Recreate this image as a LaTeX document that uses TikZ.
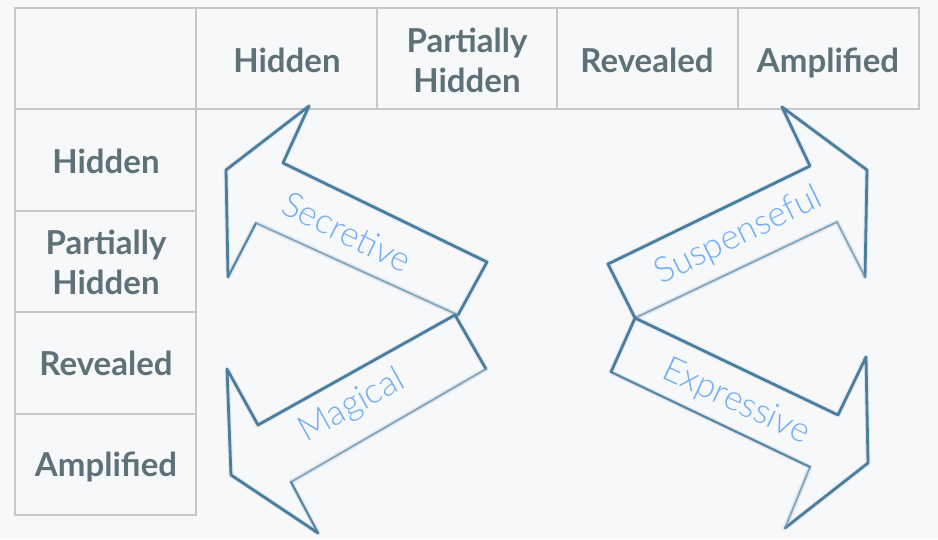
\documentclass[tikz,border=0pt]{standalone}
\usepackage{fontspec}
\setmainfont{Lato}
\newfontfamily\lightfont{Lato}[UprightFont={* Light}]
\definecolor{bgc}{HTML}{F7F8FA}
\definecolor{gridc}{HTML}{C6C7C9}
\definecolor{headc}{HTML}{5F7178}
\definecolor{arrc}{HTML}{4A7D9E}
\definecolor{arrlight}{HTML}{7299B4}
\definecolor{lblc}{HTML}{72AEF6}
\tikzset{
  gridline/.style={draw=gridc, line width=1.3pt},
  head/.style={text=headc, font=\bfseries\fontsize{33}{40}\selectfont, align=center, inner sep=0pt},
  lbl/.style={text=lblc, font=\lightfont\fontsize{35}{40}\selectfont, inner sep=0pt},
  halo/.style={draw=arrc, line width=5pt, opacity=0.12, line join=round},
  dk/.style={draw=arrc, line width=2.8pt, line cap=round, line join=round},
  lt/.style={draw=arrlight, line width=1.8pt, line cap=round, opacity=0.85},
  md/.style={draw=arrc, line width=2.2pt, line cap=round, opacity=0.9},
}
\begin{document}
\begin{tikzpicture}[x=1pt,y=-1pt]
\fill[bgc] (0,0) rectangle (938,539);
\useasboundingbox (0,0) rectangle (938,539);
% table grid
\draw[gridline] (15,8) rectangle (919,109);
\foreach \x in {196,377,557,738} \draw[gridline] (\x,8) -- (\x,109);
\draw[gridline] (15,109) rectangle (196,515);
\foreach \y in {211,312,414} \draw[gridline] (15,\y) -- (196,\y);
% headers
\node[head, anchor=base] (c1) at (287,72) {Hidden};
\node[head] (c2) at (467,60) {Partially\\Hidden};
\node[head, anchor=base] (c3) at (647,72) {Revealed};
\node[head, anchor=base] (c4) at (828,72) {Amplified};
\node[head, anchor=base] (r1) at (106,173) {Hidden};
\node[head] (r2) at (106,262) {Partially\\Hidden};
\node[head, anchor=base] (r3) at (106,375) {Revealed};
\node[head, anchor=base] (r4) at (106,476) {Amplified};
% Secretive arrow
\coordinate (sa) at (283,163); \coordinate (sb) at (309,106); \coordinate (sc) at (226,170);
\coordinate (sd) at (228,277); \coordinate (se) at (256,223); \coordinate (sf) at (458,315);
\coordinate (sg) at (487,262);
\draw[halo] (sa)--(sb)--(sc)--(sd)--(se)--(sf)--(sg)--cycle;
\draw[dk] (sf)--(sg)--(sa)--(sb)--(sc)--(sd);
\draw[md] (sd)--(se);
\draw[lt] (se)--(sf);
% Magical arrow
\coordinate (ma) at (455,315); \coordinate (mb) at (486,369); \coordinate (mc) at (291,482);
\coordinate (md) at (318,533); \coordinate (me) at (231,475); \coordinate (mf) at (227,369);
\coordinate (mg) at (258,425);
\draw[halo] (ma)--(mb)--(mc)--(md)--(me)--(mf)--(mg)--cycle;
\draw[dk] (md)--(me)--(mf)--(mg)--(ma)--(mb);
\draw[lt] (mb)--(mc);
\draw[md] (mc)--(md);
% Suspenseful arrow
\coordinate (ua) at (608,264); \coordinate (ub) at (810,166); \coordinate (uc) at (782,107);
\coordinate (ud) at (867,170); \coordinate (ue) at (865,277); \coordinate (uf) at (837,222);
\coordinate (ug) at (635,318);
\draw[halo] (ua)--(ub)--(uc)--(ud)--(ue)--(uf)--(ug)--cycle;
\draw[dk] (ug)--(ua)--(ub)--(uc)--(ud)--(ue);
\draw[lt] (ue)--(uf)--(ug);
% Expressive arrow
\coordinate (ea) at (635,318); \coordinate (eb) at (838,415); \coordinate (ec) at (866,357);
\coordinate (ed) at (868,463); \coordinate (ee) at (785,528); \coordinate (ef) at (810,467);
\coordinate (eg) at (611,372);
\draw[halo] (ea)--(eb)--(ec)--(ed)--(ee)--(ef)--(eg)--cycle;
\draw[dk] (eg)--(ea)--(eb)--(ec)--(ed)--(ee);
\draw[lt] (ee)--(ef);
\draw[md] (ef)--(eg);
% labels
\node[lbl, rotate=-26] (tsec) at (347,232) {Secretive};
\node[lbl, rotate=29] (tmag) at (352,406) {Magical};
\node[lbl, rotate=26] (tsus) at (739,236) {Suspenseful};
\node[lbl, rotate=-25] (texp) at (736,402) {Expressive};
\end{tikzpicture}
\end{document}
